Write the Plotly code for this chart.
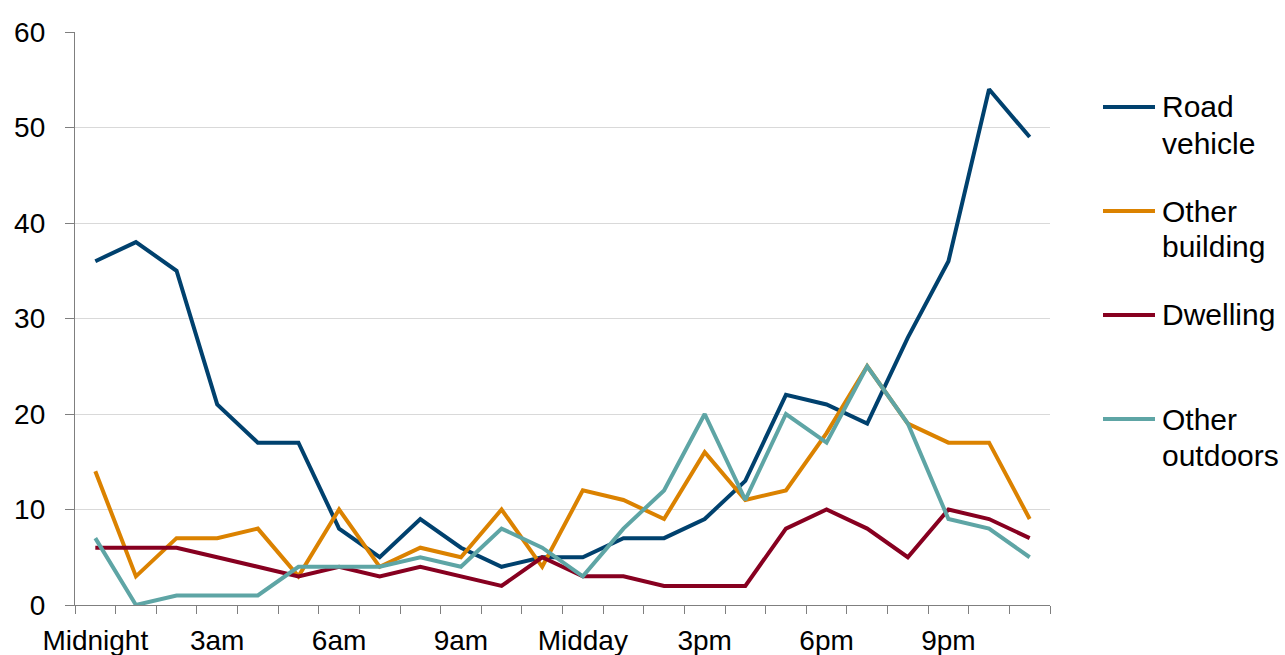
import plotly.graph_objects as go

# Hour of day (0 = midnight) and the label shown under every third hour
hours = list(range(24))
tick_hours = [0, 3, 6, 9, 12, 15, 18, 21]
tick_labels = ["Midnight", "3am", "6am", "9am", "Midday", "3pm", "6pm", "9pm"]

road_vehicle = [36, 38, 35, 21, 17, 17, 8, 5, 9, 6, 4, 5, 5, 7, 7, 9, 13, 22, 21, 19, 28, 36, 54, 49]
other_building = [14, 3, 7, 7, 8, 3, 10, 4, 6, 5, 10, 4, 12, 11, 9, 16, 11, 12, 18, 25, 19, 17, 17, 9]
dwelling = [6, 6, 6, 5, 4, 3, 4, 3, 4, 3, 2, 5, 3, 3, 2, 2, 2, 8, 10, 8, 5, 10, 9, 7]
other_outdoors = [7, 0, 1, 1, 1, 4, 4, 4, 5, 4, 8, 6, 3, 8, 12, 20, 11, 20, 17, 25, 19, 9, 8, 5]

series = [
    (["Road", "vehicle"], road_vehicle, "#00416e"),
    (["Other", "building"], other_building, "#db8200"),
    (["Dwelling"], dwelling, "#870020"),
    (["Other", "outdoors"], other_outdoors, "#5ea5a5"),
]

FONT = "Liberation Sans, Arial, sans-serif"
W, H = 1285, 655
L, R, T, B = 75, 235, 32, 50
plot_w, plot_h = W - L - R, H - T - B


def px_x(px):
    return (px - L) / plot_w


def px_y(py):
    return (H - B - py) / plot_h


fig = go.Figure()
for lines, values, color in series:
    fig.add_trace(go.Scatter(
        x=hours, y=values, name=" ".join(lines), mode="lines",
        line=dict(color=color, width=4),
    ))

# Legend on the right: a short coloured stroke and a wrapped label per series
legend_top = 107
legend_step = 104
line_gap = 36
for i, (lines, _, color) in enumerate(series):
    y0 = legend_top + i * legend_step
    fig.add_shape(
        type="line", xref="paper", yref="paper",
        x0=px_x(1103), x1=px_x(1155), y0=px_y(y0), y1=px_y(y0),
        line=dict(color=color, width=4),
    )
    for j, word in enumerate(lines):
        fig.add_annotation(
            xref="paper", yref="paper",
            x=px_x(1160), y=px_y(y0 + j * line_gap),
            xanchor="left", yanchor="middle", showarrow=False,
            text=word, font=dict(family=FONT, size=30, color="black"),
        )

fig.update_layout(
    width=W, height=H,
    margin=dict(l=L, r=R, t=T, b=B),
    paper_bgcolor="white", plot_bgcolor="white",
    font=dict(family=FONT, size=28, color="black"),
    showlegend=False,
)

fig.update_xaxes(
    range=[-0.5, 23.5], automargin=False,
    tickmode="array", tickvals=tick_hours, ticktext=tick_labels,
    ticks="", showgrid=False, zeroline=False,
    showline=True, linecolor="#7f7f7f", linewidth=1.3,
    tickfont=dict(family=FONT, size=28),
    ticklabelstandoff=10,
    minor=dict(
        tickmode="array", tickvals=[h - 0.5 for h in range(25)],
        ticks="outside", ticklen=8, tickcolor="#7f7f7f", tickwidth=1.3,
        showgrid=False,
    ),
)

fig.update_yaxes(
    range=[0, 60], tickmode="linear", tick0=0, dtick=10, automargin=False,
    ticks="outside", ticklen=9, tickcolor="#7f7f7f", tickwidth=1.3,
    showgrid=True, gridcolor="#d9d9d9", gridwidth=1,
    zeroline=False,
    showline=True, linecolor="#7f7f7f", linewidth=1.3,
    tickfont=dict(family=FONT, size=28),
    ticklabelstandoff=14,
)

fig.write_html("out.html")
